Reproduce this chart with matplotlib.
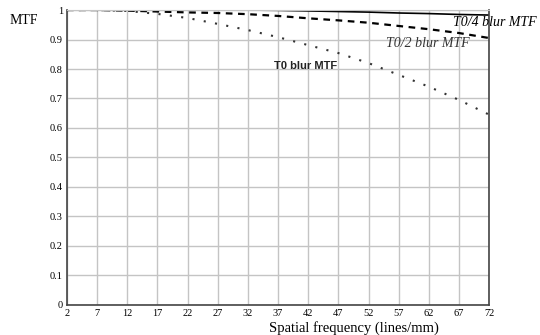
import matplotlib
matplotlib.use('Agg')
import matplotlib.pyplot as plt
import numpy as np

# spatial frequency (lines/mm)
freq = [2, 7, 12, 17, 22, 27, 32, 37, 42, 47, 52, 57, 62, 67, 72]

# MTF curves
mtf_t0_4 = [1.0, 1.0, 1.0, 1.0, 1.0, 1.0, 1.0, 0.999, 0.997, 0.995, 0.993, 0.99, 0.988, 0.985, 0.983]
mtf_t0_2 = [1.0, 1.0, 0.998, 0.995, 0.992, 0.99, 0.986, 0.98, 0.972, 0.965, 0.957, 0.946, 0.935, 0.922, 0.905]
mtf_t0 = [1.0, 1.0, 0.997, 0.987, 0.973, 0.953, 0.932, 0.908, 0.881, 0.854, 0.82, 0.78, 0.74, 0.695, 0.645]

xticks = np.arange(2, 73, 5)
yticks = np.round(np.arange(0, 1.01, 0.1), 1)
ytick_labels = ['0' if v == 0 else ('1' if v == 1 else f'{v:g}') for v in yticks]

plt.rcParams['font.family'] = ['Liberation Serif', 'DejaVu Serif']

fig = plt.figure(figsize=(5.4, 3.35), dpi=100)
ax = fig.add_axes([0.124, 0.09, 0.782, 0.88])

ax.plot(freq, mtf_t0_4, color='black', lw=1.2, ls='-')
ax.plot(freq, mtf_t0_2, color='black', lw=1.6, ls=(0, (3, 2.5)))
ax.plot(freq, mtf_t0, color='#333333', lw=1.5, ls=(0, (1, 4.5)))

ax.set_xlim(2, 72)
ax.set_ylim(0, 1)
ax.set_xticks(xticks)
ax.set_yticks(yticks)
ax.set_yticklabels(ytick_labels)
ax.tick_params(labelsize=7.5, length=0, pad=3)
ax.grid(True, color='#c4c4c4', lw=1.0)
ax.set_axisbelow(True)
for s in ['left', 'bottom', 'right']:
    ax.spines[s].set_color('#444444')
    ax.spines[s].set_linewidth(1.2)
ax.spines['top'].set_color('#c4c4c4')

ax.set_xlabel('Spatial frequency (lines/mm)', fontsize=10.5, labelpad=2, x=0.68)
fig.text(0.017, 0.94, 'MTF', fontsize=10, ha='left', va='center')

ax.text(0.913, 0.959, 'T0/4 blur MTF', transform=ax.transAxes, fontsize=10,
        style='italic', ha='left', va='center', clip_on=False)
ax.text(0.755, 0.885, 'T0/2 blur MTF', transform=ax.transAxes, fontsize=10,
        style='italic', ha='left', va='center', color='#333333')
ax.text(0.49, 0.81, 'T0 blur MTF', transform=ax.transAxes, fontsize=8,
        fontweight='bold', family=['Liberation Sans', 'DejaVu Sans'],
        ha='left', va='center', color='#222222')

fig.savefig('out.png', dpi=100)
